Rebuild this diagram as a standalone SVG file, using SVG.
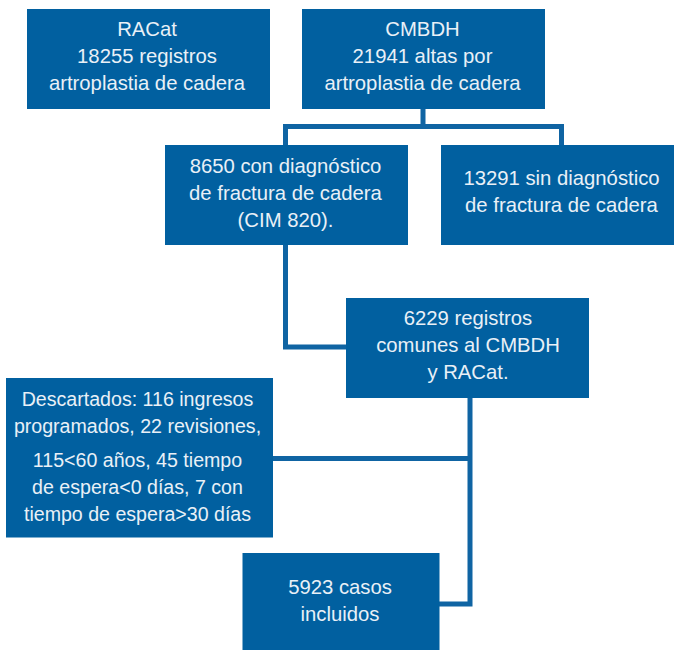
<svg xmlns="http://www.w3.org/2000/svg" width="674" height="650" viewBox="0 0 674 650">
<style>
.box{fill:#0160a0}
.t{font-family:"Liberation Sans",Arial,sans-serif;font-size:20.3px;fill:#e9f0f7;text-anchor:middle}
.s{font-size:19.6px}
.c{fill:none;stroke:#0f64a3;stroke-width:5;stroke-linejoin:miter}
</style>
<rect width="674" height="650" fill="#ffffff"/>
<g id="connectors">
<path class="c" d="M423,108 V126.5 M285.5,145 V126.5 H561.5 V145"/>
<path class="c" d="M285.5,244 V347 H346"/>
<path class="c" d="M470,398 V604 H439"/>
<path class="c" d="M272,458.5 H470"/>
</g>
<g id="racat">
<rect class="box" x="27" y="9" width="243" height="100"/>
<text class="t" x="147" y="36">RACat</text>
<text class="t" x="147" y="63">18255 registros</text>
<text class="t" x="147" y="90">artroplastia de cadera</text>
</g>
<g id="cmbdh">
<rect class="box" x="302" y="9" width="243" height="100"/>
<text class="t" x="422.5" y="36">CMBDH</text>
<text class="t" x="422.5" y="63">21941 altas por</text>
<text class="t" x="422.5" y="90">artroplastia de cadera</text>
</g>
<g id="con-fractura">
<rect class="box" x="165" y="145" width="243" height="100"/>
<text class="t" x="285.5" y="172.5">8650 con diagnóstico</text>
<text class="t" x="285.5" y="199.5">de fractura de cadera</text>
<text class="t" x="285.5" y="226.5">(CIM 820).</text>
</g>
<g id="sin-fractura">
<rect class="box" x="441" y="145" width="234" height="100"/>
<text class="t" x="561.5" y="185">13291 sin diagnóstico</text>
<text class="t" x="561.5" y="211.5">de fractura de cadera</text>
</g>
<g id="comunes">
<rect class="box" x="346" y="298" width="243" height="100"/>
<text class="t" x="468" y="325">6229 registros</text>
<text class="t" x="468" y="352">comunes al CMBDH</text>
<text class="t" x="468" y="379">y RACat.</text>
</g>
<g id="descartados">
<rect class="box" x="6" y="378" width="267" height="159.5"/>
<text class="t s" x="137.5" y="406">Descartados: 116 ingresos</text>
<text class="t s" x="137.5" y="433">programados, 22 revisiones,</text>
<text class="t s" x="137.5" y="467">115&lt;60 años, 45 tiempo</text>
<text class="t s" x="137.5" y="494">de espera&lt;0 días, 7 con</text>
<text class="t s" x="137.5" y="520.5">tiempo de espera&gt;30 días</text>
</g>
<g id="incluidos">
<rect class="box" x="242.5" y="553" width="197" height="97"/>
<text class="t" x="340" y="594">5923 casos</text>
<text class="t" x="340" y="620.5">incluidos</text>
</g>
</svg>
